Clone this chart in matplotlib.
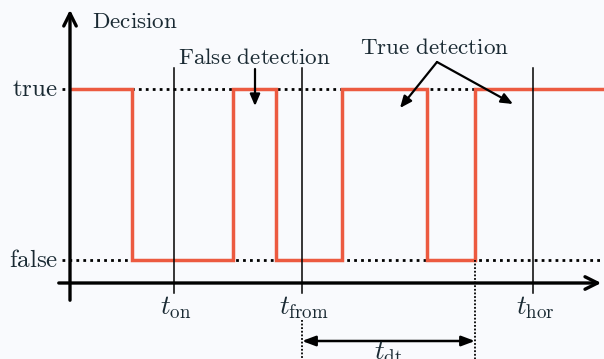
import matplotlib
matplotlib.use("Agg")
import matplotlib.pyplot as plt

plt.rcParams['mathtext.fontset'] = 'cm'

# --- data (schematic coordinates, pixel-like units) ---
level_names = ['true', 'false']
level_y = [89, 260]                      # true / false level
switch_x = [72, 132, 233, 276, 342, 427, 475, 604]   # decision edges
switch_state = [1, 0, 1, 0, 1, 0, 1]     # 1 = true, 0 = false per segment
time_names = [r'$t_{\mathrm{on}}$', r'$t_{\mathrm{from}}$', r'$t_{\mathrm{hor}}$']
time_x = [174, 302, 533]
t_dt_span = [302, 475]

RED = '#ec5a40'
BG = '#f9fafd'

fig = plt.figure(figsize=(6.04, 3.59), dpi=100, facecolor=BG)
ax = fig.add_axes([0, 0, 1, 1])
ax.set_facecolor(BG)
ax.set_xlim(0, 604)
ax.set_ylim(359, 0)
ax.axis('off')

y_true, y_false = level_y
x_axis_y = 283
y_axis_x = 70

# dotted level lines
for y in level_y:
    ax.plot([62, 604], [y, y], color='black', lw=2.0,
            linestyle=(0, (1, 1.5)), zorder=2)

# decision signal (step)
xs, ys = [], []
for i, s in enumerate(switch_state):
    y = y_true if s else y_false
    xs += [switch_x[i], switch_x[i + 1]]
    ys += [y, y]
ax.plot(xs, ys, color=RED, lw=2.5, solid_joinstyle='miter', zorder=3)

# time markers
for x in time_x:
    ax.plot([x, x], [68, 293], color='black', lw=1.1, zorder=4)

# axes with arrows
ax.annotate('', xy=(y_axis_x, 7), xytext=(y_axis_x, 303),
            arrowprops=dict(arrowstyle='->,head_length=0.9,head_width=0.45',
                            lw=2.4, color='black'), zorder=5)
ax.annotate('', xy=(604, x_axis_y), xytext=(56, x_axis_y),
            arrowprops=dict(arrowstyle='->,head_length=0.9,head_width=0.45',
                            lw=2.4, color='black'), zorder=5)

# dotted verticals for t_dt
ax.plot([t_dt_span[0]] * 2, [320, 359], color='black', lw=1.3,
        linestyle=(0, (1, 1)), zorder=4)
ax.plot([t_dt_span[1]] * 2, [y_false, 359], color='black', lw=1.3,
        linestyle=(0, (1, 1)), zorder=4)
ax.annotate('', xy=(t_dt_span[1], 341), xytext=(t_dt_span[0], 341),
            arrowprops=dict(arrowstyle='<|-|>,head_length=0.8,head_width=0.3',
                            lw=1.8, color='black', shrinkA=0, shrinkB=0))

fs = 16.6
txtc = '#1a2a33'
ax.text(92, 22, r'$\mathrm{Decision}$', fontsize=fs, ha='left', va='center', color=txtc)
ax.text(58, y_true, r'$\mathrm{' + level_names[0] + '}$', fontsize=18,
        ha='right', va='center', color=txtc)
ax.text(58, y_false, r'$\mathrm{' + level_names[1] + '}$', fontsize=18,
        ha='right', va='center', color=txtc)
for name, x in zip(time_names, time_x):
    ax.text(x + 2, 308, name, fontsize=19.5, ha='center', va='center', color=txtc)
ax.text(388, 353, r'$t_{\mathrm{dt}}$', fontsize=19.5, ha='center', va='center', color=txtc)

ax.text(254, 57, r'$\mathrm{False\ detection}$', fontsize=fs, ha='center', va='center', color=txtc)
ax.annotate('', xy=(255, 106), xytext=(255, 69),
            arrowprops=dict(arrowstyle='-|>,head_length=0.7,head_width=0.3',
                            lw=1.6, color='black', shrinkA=0, shrinkB=0))
ax.text(435, 48, r'$\mathrm{True\ detection}$', fontsize=fs, ha='center', va='center', color=txtc)
for end in [(400, 108), (513, 104)]:
    ax.annotate('', xy=end, xytext=(437, 62),
                arrowprops=dict(arrowstyle='-|>,head_length=0.7,head_width=0.3',
                                lw=1.6, color='black', shrinkA=0, shrinkB=0))

fig.savefig('out.png', dpi=100, facecolor=BG)
